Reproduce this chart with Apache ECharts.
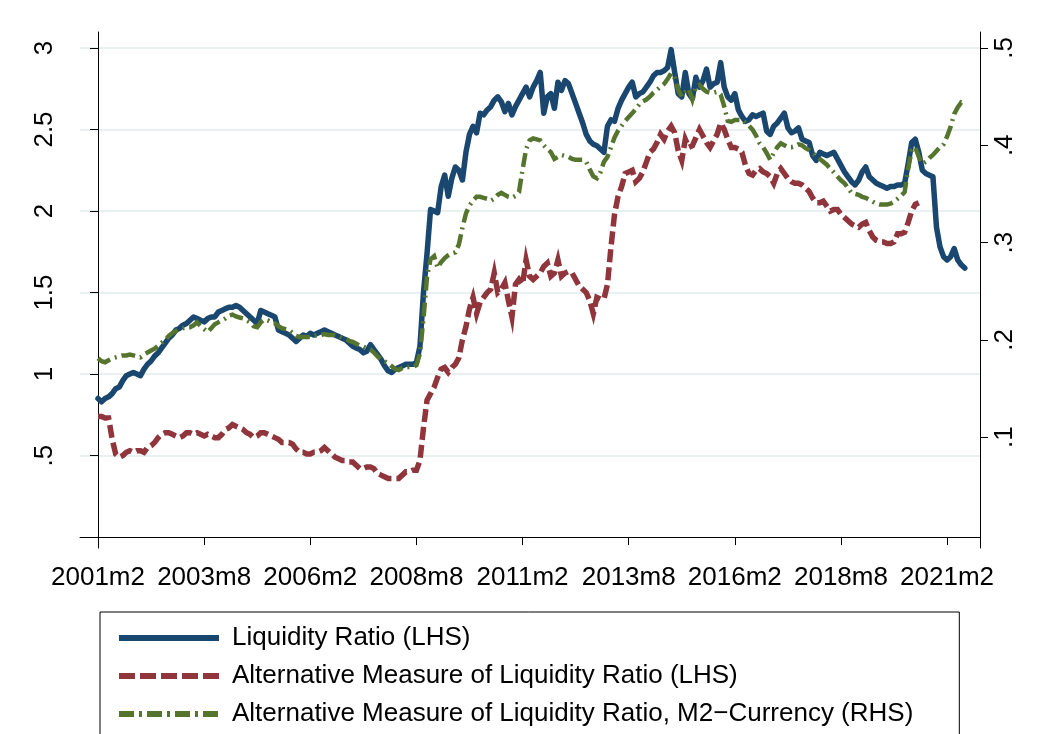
<!DOCTYPE html>
<html>
<head>
<meta charset="utf-8">
<script src="https://cdn.jsdelivr.net/npm/echarts@6/dist/echarts.min.js"></script>
<style>
  html, body { margin: 0; padding: 0; background: #fff; }
  #chart { width: 1045px; height: 734px; }
</style>
</head>
<body>
<div id="chart"></div>
<script>
// months counted from 2001m2 (index 0) to 2021m7 (index 245)
const xTickMonths = [0, 30, 60, 90, 120, 150, 180, 210, 240]
const xTickLabels = ['2001m2', '2003m8', '2006m2', '2008m8', '2011m2', '2013m8', '2016m2', '2018m8', '2021m2']
const leftTicks = [0.5, 1, 1.5, 2, 2.5, 3]
const rightTicks = [0.1, 0.2, 0.3, 0.4, 0.5]

const seriesNames = [
  'Liquidity Ratio (LHS)',
  'Alternative Measure of Liquidity Ratio (LHS)',
  'Alternative Measure of Liquidity Ratio, M2\u2212Currency (RHS)'
]

const liquidity = [
  0.85, 0.83, 0.85, 0.86, 0.88, 0.91, 0.92, 0.96, 0.99, 1.00,
  1.01, 1.00, 0.99, 1.03, 1.06, 1.08, 1.11, 1.13, 1.16, 1.19,
  1.22, 1.24, 1.27, 1.28, 1.30, 1.31, 1.33, 1.35, 1.34, 1.33,
  1.32, 1.34, 1.35, 1.35, 1.38, 1.39, 1.40, 1.41, 1.41, 1.42,
  1.41, 1.39, 1.37, 1.35, 1.33, 1.31, 1.39, 1.38, 1.37, 1.36,
  1.35, 1.27, 1.26, 1.25, 1.24, 1.22, 1.20, 1.22, 1.24, 1.23,
  1.25, 1.24, 1.25, 1.26, 1.27, 1.26, 1.25, 1.24, 1.23, 1.22,
  1.21, 1.19, 1.17, 1.16, 1.15, 1.13, 1.14, 1.18, 1.15, 1.12,
  1.09, 1.05, 1.02, 1.01, 1.03, 1.04, 1.05, 1.06, 1.06, 1.06,
  1.07, 1.17, 1.50, 1.74, 2.01, 2.00, 1.99, 2.15, 2.22, 2.09,
  2.20, 2.27, 2.25, 2.19, 2.36, 2.47, 2.52, 2.48, 2.60, 2.59,
  2.62, 2.64, 2.68, 2.70, 2.67, 2.61, 2.66, 2.59, 2.64, 2.68,
  2.72, 2.76, 2.70, 2.76, 2.80, 2.85, 2.60, 2.70, 2.72, 2.63,
  2.79, 2.74, 2.80, 2.78, 2.72, 2.66, 2.60, 2.54, 2.47, 2.43,
  2.41, 2.40, 2.38, 2.36, 2.52, 2.56, 2.55, 2.63, 2.68, 2.72,
  2.76, 2.79, 2.70, 2.72, 2.73, 2.76, 2.79, 2.83, 2.85, 2.85,
  2.86, 2.88, 2.99, 2.85, 2.72, 2.70, 2.85, 2.72, 2.69, 2.82,
  2.76, 2.80, 2.87, 2.76, 2.78, 2.79, 2.91, 2.76, 2.70, 2.68,
  2.72, 2.62, 2.58, 2.55, 2.56, 2.59, 2.58, 2.59, 2.60, 2.49,
  2.47, 2.52, 2.54, 2.57, 2.60, 2.51, 2.48, 2.49, 2.51, 2.44,
  2.43, 2.42, 2.34, 2.31, 2.36, 2.35, 2.34, 2.35, 2.36, 2.32,
  2.28, 2.24, 2.21, 2.18, 2.16, 2.19, 2.24, 2.27, 2.21, 2.19,
  2.17, 2.16, 2.15, 2.14, 2.15, 2.15, 2.16, 2.16, 2.17, 2.29,
  2.42, 2.44, 2.36, 2.25, 2.23, 2.22, 2.21, 1.90, 1.78, 1.72,
  1.70, 1.72, 1.77, 1.70, 1.67, 1.65
]

const altMeasure = [
  0.74, 0.74, 0.73, 0.73, 0.60, 0.51, 0.49, 0.50, 0.52, 0.53,
  0.52, 0.53, 0.53, 0.52, 0.55, 0.56, 0.58, 0.61, 0.63, 0.64,
  0.64, 0.63, 0.62, 0.61, 0.62, 0.64, 0.64, 0.63, 0.64, 0.63,
  0.62, 0.63, 0.62, 0.61, 0.61, 0.63, 0.66, 0.67, 0.69, 0.68,
  0.67, 0.66, 0.64, 0.63, 0.61, 0.62, 0.64, 0.64, 0.63, 0.62,
  0.61, 0.60, 0.58, 0.58, 0.58, 0.57, 0.54, 0.52, 0.52, 0.51,
  0.51, 0.52, 0.52, 0.53, 0.55, 0.53, 0.51, 0.49, 0.48, 0.47,
  0.47, 0.46, 0.46, 0.44, 0.42, 0.42, 0.43, 0.43, 0.42, 0.39,
  0.38, 0.37, 0.36, 0.36, 0.36, 0.36, 0.38, 0.40, 0.40, 0.41,
  0.41, 0.47, 0.67, 0.84, 0.88, 0.92, 0.98, 1.03, 1.04, 1.01,
  1.04, 1.06, 1.10, 1.21, 1.29, 1.40, 1.47, 1.37, 1.44, 1.47,
  1.50, 1.52, 1.62, 1.50, 1.52, 1.56, 1.45, 1.35, 1.55, 1.58,
  1.55, 1.70, 1.60, 1.58, 1.60, 1.62, 1.66, 1.68, 1.60, 1.62,
  1.70, 1.60, 1.62, 1.63, 1.62, 1.58, 1.54, 1.52, 1.50, 1.45,
  1.37, 1.47, 1.46, 1.46, 1.55, 1.78, 1.98, 2.09, 2.15, 2.23,
  2.24, 2.25, 2.18, 2.20, 2.24, 2.30, 2.36, 2.38, 2.42, 2.47,
  2.44, 2.49, 2.52, 2.48, 2.37, 2.31, 2.44, 2.39, 2.40, 2.45,
  2.50, 2.46, 2.42, 2.39, 2.43, 2.47, 2.54, 2.50, 2.44, 2.39,
  2.39, 2.38, 2.36, 2.28, 2.23, 2.22, 2.25, 2.26, 2.24, 2.23,
  2.21, 2.17, 2.23, 2.26, 2.23, 2.20, 2.18, 2.17, 2.17, 2.16,
  2.14, 2.12, 2.08, 2.05, 2.05, 2.06, 2.03, 2.00, 2.01, 2.01,
  1.98, 1.96, 1.94, 1.92, 1.91, 1.90, 1.92, 1.93, 1.88, 1.84,
  1.82, 1.81, 1.81, 1.80, 1.80, 1.81, 1.86, 1.86, 1.87, 1.93,
  2.00, 2.04, 2.05
]

const m2Currency = [
  0.181, 0.178, 0.177, 0.179, 0.181, 0.182, 0.183, 0.184, 0.184, 0.185,
  0.184, 0.183, 0.182, 0.185, 0.187, 0.189, 0.191, 0.194, 0.197, 0.200,
  0.204, 0.207, 0.209, 0.211, 0.212, 0.213, 0.213, 0.215, 0.218, 0.214,
  0.211, 0.208, 0.212, 0.216, 0.218, 0.220, 0.222, 0.225, 0.226, 0.224,
  0.223, 0.222, 0.220, 0.218, 0.214, 0.213, 0.218, 0.221, 0.220, 0.218,
  0.217, 0.214, 0.212, 0.211, 0.210, 0.207, 0.204, 0.203, 0.203, 0.203,
  0.203, 0.204, 0.205, 0.205, 0.206, 0.205, 0.205, 0.205, 0.204, 0.202,
  0.201, 0.199, 0.198, 0.196, 0.194, 0.193, 0.191, 0.190, 0.187, 0.183,
  0.180, 0.178, 0.176, 0.173, 0.170, 0.169, 0.171, 0.172, 0.172, 0.172,
  0.174, 0.186, 0.222, 0.265, 0.283, 0.286, 0.274, 0.280, 0.284, 0.287,
  0.289, 0.290, 0.298, 0.315, 0.330, 0.338, 0.343, 0.347, 0.347, 0.346,
  0.345, 0.343, 0.345, 0.349, 0.351, 0.349, 0.347, 0.346, 0.348, 0.352,
  0.375, 0.396, 0.405, 0.407, 0.406, 0.405, 0.400, 0.396, 0.393, 0.386,
  0.388, 0.390, 0.389, 0.388, 0.386, 0.385, 0.385, 0.385, 0.383, 0.375,
  0.368, 0.366, 0.372, 0.383, 0.388, 0.398, 0.408, 0.415, 0.420, 0.425,
  0.429, 0.433, 0.437, 0.442, 0.445, 0.447, 0.450, 0.454, 0.457, 0.460,
  0.463, 0.468, 0.474, 0.469, 0.457, 0.450, 0.455, 0.458, 0.447, 0.460,
  0.462, 0.458, 0.455, 0.454, 0.454, 0.455, 0.452, 0.440, 0.425, 0.424,
  0.426, 0.426, 0.426, 0.423, 0.420, 0.416, 0.410, 0.402, 0.398, 0.392,
  0.385, 0.392, 0.398, 0.402, 0.400, 0.398, 0.398, 0.399, 0.401, 0.400,
  0.397, 0.395, 0.392, 0.389, 0.386, 0.383, 0.380, 0.376, 0.372, 0.368,
  0.364, 0.361, 0.356, 0.351, 0.350, 0.349, 0.347, 0.346, 0.344, 0.342,
  0.340, 0.339, 0.339, 0.339, 0.340, 0.342, 0.345, 0.348, 0.352, 0.376,
  0.395, 0.398, 0.388, 0.381, 0.383, 0.387, 0.390, 0.394, 0.398, 0.401,
  0.409, 0.419, 0.432, 0.439, 0.444, 0.443
]

const FONT = '"Liberation Sans", Arial, Helvetica, sans-serif'
const NAVY = '#1a476f'
const MAROON = '#90353b'
const GREEN = '#55752f'

const toPairs = arr => arr.map((v, i) => [i, v])
const stataNum = v => String(v).replace(/^0\./, '.')

const chart = echarts.init(document.getElementById('chart'), null, { renderer: 'canvas' })

const lineStyles = [
  { color: NAVY, width: 5.5, type: 'solid', join: 'round', cap: 'round' },
  { color: MAROON, width: 5.5, type: [13, 5], join: 'miter', cap: 'butt' },
  { color: GREEN, width: 4.5, type: [14, 5, 2, 5], join: 'miter', cap: 'butt' }
]
const legendLine = [
  { color: NAVY, width: 6, type: 'solid', cap: 'butt' },
  { color: MAROON, width: 6, type: [16, 5], cap: 'butt' },
  { color: GREEN, width: 6, type: [15, 5, 3, 5], cap: 'butt' }
]

const option = {
  backgroundColor: '#fff',
  animation: false,
  grid: {
    left: 80,
    right: 65,
    top: 32,
    bottom: 186,
    containLabel: false,
    outerBoundsMode: 'none'
  },
  legend: {
    orient: 'horizontal',
    left: 100,
    top: 612,
    width: 820,
    padding: [11, 46, 10, 16],
    itemGap: 8,
    itemWidth: 100,
    itemHeight: 14,
    borderColor: '#000',
    borderWidth: 1,
    borderRadius: 0,
    selectedMode: false,
    itemStyle: { opacity: 0, borderWidth: 0 },
    textStyle: {
      fontFamily: FONT,
      fontSize: 26,
      color: '#000',
      lineHeight: 30,
      padding: [0, 0, 0, 8]
    },
    data: seriesNames.map((name, i) => ({
      name,
      lineStyle: legendLine[i],
      itemStyle: { opacity: 0, borderWidth: 0 }
    }))
  },
  xAxis: {
    type: 'value',
    min: -5.09,
    max: 249.3,
    axisLine: { show: true, lineStyle: { color: '#000', width: 1 } },
    axisTick: { show: true, length: 8, customValues: xTickMonths, lineStyle: { color: '#000', width: 1 } },
    axisLabel: {
      customValues: xTickMonths,
      margin: 17,
      fontFamily: FONT,
      fontSize: 26,
      color: '#000',
      formatter: v => xTickLabels[xTickMonths.indexOf(v)] || ''
    },
    splitLine: { show: false }
  },
  yAxis: [
    {
      type: 'value',
      position: 'left',
      min: -0.067,
      max: 3.098,
      axisLine: { show: true, lineStyle: { color: '#000', width: 1 } },
      axisTick: { show: true, length: 8, customValues: leftTicks, lineStyle: { color: '#000', width: 1 } },
      axisLabel: {
        customValues: leftTicks,
        rotate: 90,
        margin: 22,
        fontFamily: FONT,
        fontSize: 26,
        color: '#000',
        formatter: stataNum
      },
      splitLine: { show: true, lineStyle: { color: '#e8f0f2', width: 2 } }
    },
    {
      type: 'value',
      position: 'right',
      min: -0.0139,
      max: 0.5164,
      axisLine: { show: true, lineStyle: { color: '#000', width: 1 } },
      axisTick: { show: true, length: 8, customValues: rightTicks, lineStyle: { color: '#000', width: 1 } },
      axisLabel: {
        customValues: rightTicks,
        rotate: 90,
        margin: 12,
        fontFamily: FONT,
        fontSize: 26,
        color: '#000',
        formatter: stataNum
      },
      splitLine: { show: false }
    }
  ],
  series: [
    {
      name: seriesNames[0],
      type: 'line',
      yAxisIndex: 0,
      symbol: 'none',
      smooth: false,
      lineStyle: lineStyles[0],
      data: toPairs(liquidity)
    },
    {
      name: seriesNames[1],
      type: 'line',
      yAxisIndex: 0,
      symbol: 'none',
      smooth: false,
      lineStyle: lineStyles[1],
      data: toPairs(altMeasure)
    },
    {
      name: seriesNames[2],
      type: 'line',
      yAxisIndex: 1,
      symbol: 'none',
      smooth: false,
      lineStyle: lineStyles[2],
      data: toPairs(m2Currency)
    }
  ]
}

chart.setOption(option)
</script>
</body>
</html>
